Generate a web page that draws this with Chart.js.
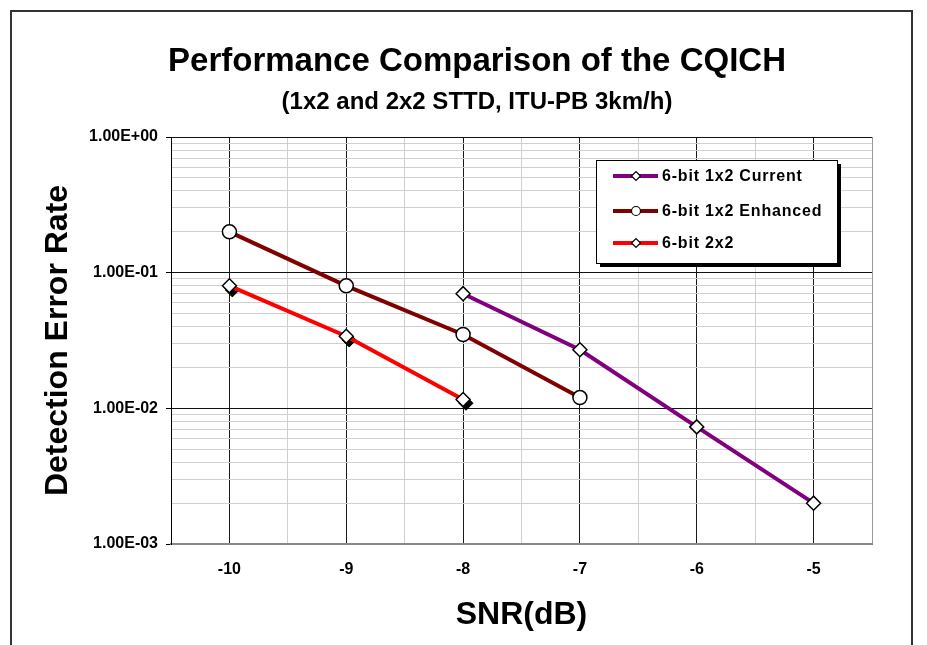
<!DOCTYPE html>
<html>
<head>
<meta charset="utf-8">
<title>Performance Comparison of the CQICH</title>
<script src="https://cdn.jsdelivr.net/npm/chart.js@4.4.1/dist/chart.umd.min.js"></script>
<style>
    html, body { margin: 0; padding: 0; background: #fff; }
    #wrap { width: 927px; height: 645px; }
</style>
</head>
<body>
<div id="wrap"><canvas id="cqichChart" width="927" height="645"></canvas></div>
<script>
// SNR (dB) of each series
const snrCurrent = [-8, -7, -6, -5];
const snrEnhanced = [-10, -9, -8, -7];
const snr2x2 = [-10, -9, -8];
// the black marker peeking out under each 2x2 diamond
const snr2x2Shadow = [-9.975, -8.975, -7.975];

// detection error rate
const errCurrent = [0.07, 0.027, 0.0073, 0.002];
const errEnhanced = [0.2, 0.08, 0.035, 0.012];
const err2x2 = [0.08, 0.034, 0.0116];
const err2x2Shadow = [0.0746, 0.0319, 0.0109];

// axis ticks
const xTicks = [-10.5, -10, -9.5, -9, -8.5, -8, -7.5, -7, -6.5, -6, -5.5, -5, -4.5];
const yTicks = [
    0.001, 0.002, 0.003, 0.004, 0.005, 0.006, 0.007, 0.008, 0.009,
    0.01, 0.02, 0.03, 0.04, 0.05, 0.06, 0.07, 0.08, 0.09,
    0.1, 0.2, 0.3, 0.4, 0.5, 0.6, 0.7, 0.8, 0.9,
    1
];
const yMajor = [0.001, 0.01, 0.1, 1];

const FONT = "'Liberation Sans', Arial, sans-serif";

// 1.00E-01 style labels
function sciLabel(v) {
    const e = Math.round(Math.log10(v));
    const m = v / Math.pow(10, e);
    return m.toFixed(2) + 'E' + (e < 0 ? '-' : '+') + String(Math.abs(e)).padStart(2, '0');
}

function toPoints(xs, ys) {
    return xs.map((x, i) => ({ x: x, y: ys[i] }));
}

// white page, frame and the two title lines
const framePlugin = {
    id: 'frame',
    beforeDraw(chart) {
        const ctx = chart.ctx;
        ctx.save();
        ctx.fillStyle = '#fff';
        ctx.fillRect(0, 0, chart.width, chart.height);
        ctx.strokeStyle = '#333';
        ctx.lineWidth = 2;
        ctx.beginPath();
        ctx.moveTo(11, chart.height + 5);
        ctx.lineTo(11, 11);
        ctx.lineTo(912, 11);
        ctx.lineTo(912, chart.height + 5);
        ctx.stroke();

        ctx.fillStyle = '#000';
        ctx.textAlign = 'center';
        ctx.textBaseline = 'middle';
        ctx.font = 'bold 33px ' + FONT;
        ctx.fillText('Performance Comparison of the CQICH', 477, 62);
        ctx.font = 'bold 24px ' + FONT;
        ctx.fillText('(1x2 and 2x2 STTD, ITU-PB 3km/h)', 477, 102);
        ctx.restore();
    }
};

// boxed legend with line + marker samples and a hard drop shadow
const legendBoxPlugin = {
    id: 'legendBox',
    afterDraw(chart) {
        const ctx = chart.ctx;
        const box = { x: 596, y: 160, w: 241, h: 103 };
        ctx.save();
        ctx.fillStyle = '#000';
        ctx.fillRect(box.x + 4, box.y + 4, box.w, box.h);
        ctx.fillStyle = '#fff';
        ctx.fillRect(box.x, box.y, box.w, box.h);
        ctx.strokeStyle = '#000';
        ctx.lineWidth = 1;
        ctx.strokeRect(box.x + 0.5, box.y + 0.5, box.w, box.h);

        const rows = [176, 211, 243];
        chart.data.datasets.forEach((ds, i) => {
            if (ds.hideInLegend) return;
            const y = rows[i];
            ctx.strokeStyle = ds.borderColor;
            ctx.lineWidth = 4;
            ctx.beginPath();
            ctx.moveTo(613, y);
            ctx.lineTo(658, y);
            ctx.stroke();
            ctx.fillStyle = '#fff';
            ctx.strokeStyle = '#000';
            ctx.lineWidth = 1.2;
            Chart.helpers.drawPoint(ctx, { pointStyle: ds.pointStyle, radius: 4.5, borderWidth: 1.2 }, 636, y);
            ctx.fillStyle = '#000';
            ctx.font = 'bold 16px ' + FONT;
            ctx.letterSpacing = '0.8px';
            ctx.textAlign = 'left';
            ctx.textBaseline = 'middle';
            ctx.fillText(ds.label, 662, y + 1);
        });
        ctx.restore();
    }
};

const chart = new Chart(document.getElementById('cqichChart'), {
    type: 'line',
    data: {
        datasets: [
            {
                label: '6-bit 1x2 Current',
                data: toPoints(snrCurrent, errCurrent),
                borderColor: '#800080',
                borderWidth: 4,
                pointStyle: 'rectRot',
                pointRadius: 7,
                pointBackgroundColor: '#fff',
                pointBorderColor: '#000',
                pointBorderWidth: 1.5
            },
            {
                label: '6-bit 1x2 Enhanced',
                data: toPoints(snrEnhanced, errEnhanced),
                borderColor: '#800000',
                borderWidth: 4,
                pointStyle: 'circle',
                pointRadius: 7,
                pointBackgroundColor: '#fff',
                pointBorderColor: '#000',
                pointBorderWidth: 1.5
            },
            {
                label: '6-bit 2x2',
                data: toPoints(snr2x2, err2x2),
                borderColor: '#ff0000',
                borderWidth: 4,
                pointStyle: 'rectRot',
                pointRadius: 7,
                pointBackgroundColor: '#fff',
                pointBorderColor: '#000',
                pointBorderWidth: 1.5
            },
            {
                label: '2x2 marker shadow',
                hideInLegend: true,
                data: toPoints(snr2x2Shadow, err2x2Shadow),
                showLine: false,
                borderColor: '#000',
                pointStyle: 'rectRot',
                pointRadius: 7,
                pointBackgroundColor: '#000',
                pointBorderColor: '#000',
                pointBorderWidth: 1
            }
        ]
    },
    options: {
        responsive: false,
        animation: false,
        layout: {
            padding: { left: 0, top: 137, right: 55, bottom: 0 }
        },
        plugins: {
            legend: { display: false },
            title: { display: false },
            tooltip: { enabled: false }
        },
        scales: {
            x: {
                type: 'linear',
                min: -10.5,
                max: -4.5,
                afterBuildTicks: function(scale) {
                    scale.ticks = xTicks.map(v => ({ value: v }));
                },
                afterFit: function(scale) {
                    scale.height = 101;
                },
                ticks: {
                    autoSkip: false,
                    maxRotation: 0,
                    padding: 16,
                    color: '#000',
                    font: { family: FONT, size: 16, weight: 'bold' },
                    callback: function(value) {
                        return Number.isInteger(value) ? String(value) : '';
                    }
                },
                grid: {
                    drawTicks: false,
                    lineWidth: 1,
                    color: function(ctx) {
                        const v = ctx.tick ? ctx.tick.value : null;
                        if (v === -10.5 || v === -4.5) return '#999';
                        return Number.isInteger(v) ? '#1a1a1a' : '#d0d0d0';
                    }
                },
                border: { color: '#888', width: 2 },
                title: {
                    display: true,
                    text: 'SNR(dB)',
                    color: '#000',
                    font: { family: FONT, size: 32, weight: 'bold' },
                    padding: 11
                }
            },
            y: {
                type: 'logarithmic',
                min: 0.001,
                max: 1,
                afterBuildTicks: function(scale) {
                    scale.ticks = yTicks.map(v => ({ value: v, major: yMajor.includes(v) }));
                },
                afterFit: function(scale) {
                    scale.width = 171;
                },
                ticks: {
                    autoSkip: false,
                    padding: 8,
                    color: '#000',
                    font: { family: FONT, size: 16, weight: 'bold' },
                    callback: function(value) {
                        return yMajor.includes(value) ? sciLabel(value) : '';
                    }
                },
                grid: {
                    tickLength: 5,
                    lineWidth: 1,
                    color: function(ctx) {
                        return ctx.tick && ctx.tick.major ? '#111' : '#cfcfcf';
                    },
                    tickColor: function(ctx) {
                        return ctx.tick && ctx.tick.major ? '#000' : 'rgba(0,0,0,0)';
                    }
                },
                border: { color: '#000', width: 1 },
                title: {
                    display: true,
                    text: 'Detection Error Rate',
                    color: '#000',
                    font: { family: FONT, size: 32, weight: 'bold' },
                    padding: 39
                }
            }
        }
    },
    plugins: [framePlugin, legendBoxPlugin]
});
</script>
</body>
</html>
